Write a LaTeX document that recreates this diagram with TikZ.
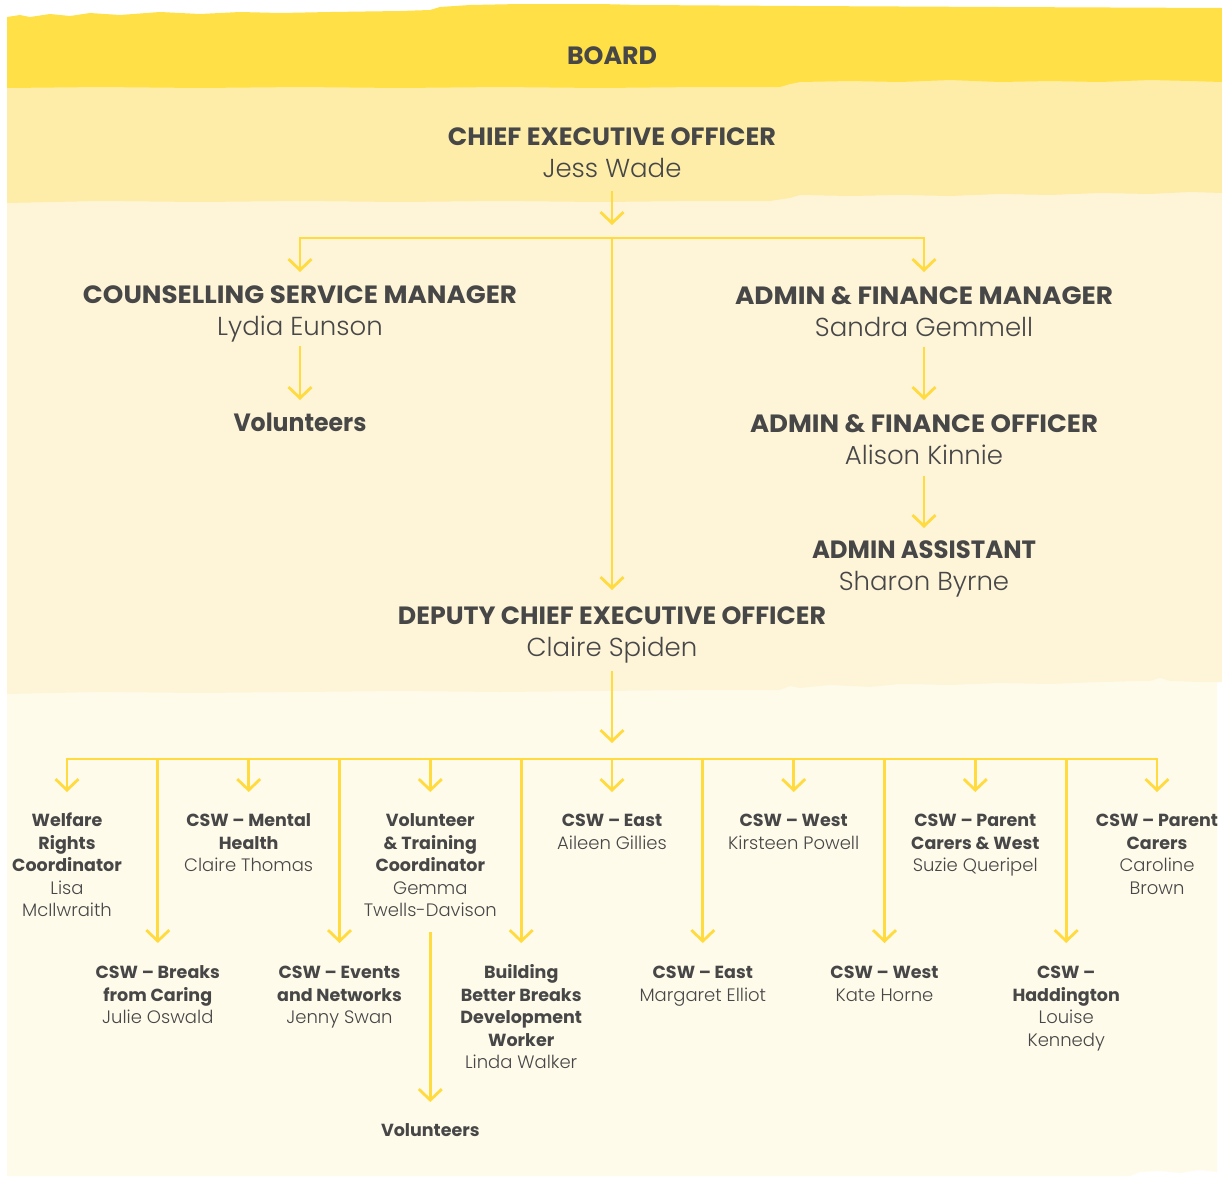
\documentclass[tikz,border=0pt]{standalone}
\usepackage{fontspec}
\usepackage{graphicx}
\IfFontExistsTF{Poppins Light}{\setmainfont{Poppins Light}[BoldFont={Poppins Bold}]}{\setmainfont{Poppins}}
\usetikzlibrary{arrows.meta}
\definecolor{bandA}{HTML}{FFE046}
\definecolor{bandB}{HTML}{FEEDA9}
\definecolor{bandC}{HTML}{FEF5D9}
\definecolor{bandD}{HTML}{FFFBEB}
\definecolor{lineY}{HTML}{FFDB3F}
\definecolor{txt}{HTML}{474747}
\newcommand\ttl[2]{\resizebox{#1}{\height}{\textbf{#2}}}
\newcommand\bignm[1]{{\fontsize{26}{32.5}\selectfont #1}}
\newcommand\smnm[1]{{\fontsize{18}{22.5}\selectfont #1}}
\tikzset{
  conn/.style={draw=lineY, line width=2.8pt},
  tipd/.style={conn, -{Straight Barb[length=11pt,width=23pt]}},
  big/.style={anchor=north, inner sep=0pt, align=center, text=txt, font=\fontsize{25}{32.5}\selectfont},
  small/.style={anchor=north, inner sep=0pt, align=center, text=txt, font=\fontsize{17.5}{22.5}\selectfont},
}
\begin{document}
\begin{tikzpicture}[x=1pt,y=-1pt]
\useasboundingbox (0,0) rectangle (1222,1176);
\fill[white] (0,0) rectangle (1222,1176);
% bands
\fill[bandD] (7,640) -- (1217,640) -- (1217,1172) -- (1200,1170) -- (1180,1173) -- (1160,1171) -- (1140,1172) -- (1130,1176) -- (7,1176) -- cycle;
\fill[bandC] (7,180) -- (1222,180) -- (1222,682) -- (1200,682) -- (1170,681) -- (1160,678) -- (1150,681) -- (1100,682) -- (1050,684) -- (1000,683) -- (950,685) -- (900,684) -- (870,687) -- (830,685) -- (800,688) -- (790,686) -- (780,690) -- (700,690) -- (600,691) -- (500,692) -- (400,691) -- (300,692) -- (200,693) -- (100,692) -- (7,694) -- cycle;
\fill[bandB] (7,70) -- (1222,70) -- (1222,193) -- (1190,192) -- (1150,194) -- (1100,193) -- (1050,195) -- (1000,194) -- (950,196) -- (900,195) -- (850,196) -- (800,195) -- (790,198) -- (770,201) -- (700,201) -- (600,202) -- (500,201) -- (400,202) -- (300,201) -- (200,202) -- (100,201) -- (7,203) -- cycle;
\fill[bandA] (7,17) -- (20,15) -- (30,17) -- (50,14) -- (70,16) -- (90,13) -- (120,15) -- (160,12) -- (200,14) -- (240,12) -- (280,13) -- (330,12) -- (400,11) -- (430,10) -- (440,7) -- (470,5) -- (520,4) -- (600,4) -- (640,5) -- (800,6) -- (1000,7) -- (1222,8) -- (1222,82) -- (1190,81) -- (1150,80) -- (1100,82) -- (1050,81) -- (1000,82) -- (950,80) -- (900,82) -- (850,81) -- (800,82) -- (790,84) -- (780,87) -- (700,87) -- (600,88) -- (500,87) -- (400,88) -- (300,87) -- (200,88) -- (100,87) -- (7,88) -- cycle;
% upper nodes
\node[big] (board) at (612,41.25) {\strut\ttl{90pt}{BOARD}\strut};
\node[big] (ceo) at (612,122.25) {\strut\ttl{328pt}{CHIEF EXECUTIVE OFFICER}\\\bignm{Jess Wade}\strut};
\node[big] (csm) at (300,280.25) {\strut\ttl{434pt}{COUNSELLING SERVICE MANAGER}\\\bignm{Lydia Eunson}\strut};
\node[big] (vol1) at (300,408.25) {\strut\ttl{133pt}{Volunteers}\strut};
\node[big] (afm) at (924,281.25) {\strut\ttl{378pt}{ADMIN \& FINANCE MANAGER}\\\bignm{Sandra Gemmell}\strut};
\node[big] (afo) at (924,409.25) {\strut\ttl{348pt}{ADMIN \& FINANCE OFFICER}\\\bignm{Alison Kinnie}\strut};
\node[big] (aa) at (924,535.25) {\strut\ttl{224pt}{ADMIN ASSISTANT}\\\bignm{Sharon Byrne}\strut};
\node[big] (dceo) at (612,601.25) {\strut\ttl{428pt}{DEPUTY CHIEF EXECUTIVE OFFICER}\\\bignm{Claire Spiden}\strut};
\coordinate (j0) at (612,238);
\coordinate (j1) at (612,759);
% upper connectors
\draw[tipd] ([yshift=-3.25pt]ceo.south) -- ([yshift=13pt]j0);
\draw[tipd] (j0) -| ([yshift=8.25pt]csm.north);
\draw[tipd] (j0) -| ([yshift=9.25pt]afm.north);
\draw[tipd] (j0) -- ([yshift=11.25pt]dceo.north);
\draw[tipd] (csm.south) -- ([yshift=8.25pt]vol1.north);
\draw[tipd] (afm.south) -- ([yshift=9.25pt]afo.north);
\draw[tipd] ([yshift=-1.5pt]afo.south) -- ([yshift=7.25pt]aa.north);
\draw[tipd] ([yshift=-4pt]dceo.south) -- ([yshift=16pt]j1);
% bottom nodes, top row
\node[small] (b0) at (67,810.75) {\strut\textbf{Welfare}\\\textbf{Rights}\\\textbf{Coordinator}\\\smnm{Lisa}\\\smnm{McIlwraith}\strut};
\node[small] (b2) at (248.7,810.75) {\strut\textbf{CSW – Mental}\\\textbf{Health}\\\smnm{Claire Thomas}\strut};
\node[small] (b4) at (430.3,810.75) {\strut\textbf{Volunteer}\\\textbf{\& Training}\\\textbf{Coordinator}\\\smnm{Gemma}\\\smnm{Twells-Davison}\strut};
\node[small] (b6) at (612,810.75) {\strut\textbf{CSW – East}\\\smnm{Aileen Gillies}\strut};
\node[small] (b8) at (793.7,810.75) {\strut\textbf{CSW – West}\\\smnm{Kirsteen Powell}\strut};
\node[small] (b10) at (975.3,810.75) {\strut\textbf{CSW – Parent}\\\textbf{Carers \& West}\\\smnm{Suzie Queripel}\strut};
\node[small] (b12) at (1157,810.75) {\strut\textbf{CSW – Parent}\\\textbf{Carers}\\\smnm{Caroline}\\\smnm{Brown}\strut};
% bottom nodes, lower row
\node[small] (b1) at (157.8,962.75) {\strut\textbf{CSW – Breaks}\\\textbf{from Caring}\\\smnm{Julie Oswald}\strut};
\node[small] (b3) at (339.5,962.75) {\strut\textbf{CSW – Events}\\\textbf{and Networks}\\\smnm{Jenny Swan}\strut};
\node[small] (b5) at (521.2,962.75) {\strut\textbf{Building}\\\textbf{Better Breaks}\\\textbf{Development}\\\textbf{Worker}\\\smnm{Linda Walker}\strut};
\node[small] (b7) at (702.8,962.75) {\strut\textbf{CSW – East}\\\smnm{Margaret Elliot}\strut};
\node[small] (b9) at (884.5,962.75) {\strut\textbf{CSW – West}\\\smnm{Kate Horne}\strut};
\node[small] (b11) at (1066.2,962.75) {\strut\textbf{CSW –}\\\textbf{Haddington}\\\smnm{Louise}\\\smnm{Kennedy}\strut};
\node[small] (vol2) at (430.3,1120.25) {\strut\textbf{Volunteers}\strut};
% bottom connectors
\foreach \n in {b0,b2,b4,b8,b10,b12} {\draw[tipd] (j1) -| ([yshift=18.75pt]\n.north);}
\draw[tipd] (j1) -- ([yshift=18.75pt]b6.north);
\foreach \n in {b1,b3,b5,b7,b9,b11} {\draw[tipd] (j1) -| ([yshift=19.75pt]\n.north);}
\draw[tipd] ([yshift=-8.75pt]b4.south) -- ([yshift=18.25pt]vol2.north);
\end{tikzpicture}
\end{document}
